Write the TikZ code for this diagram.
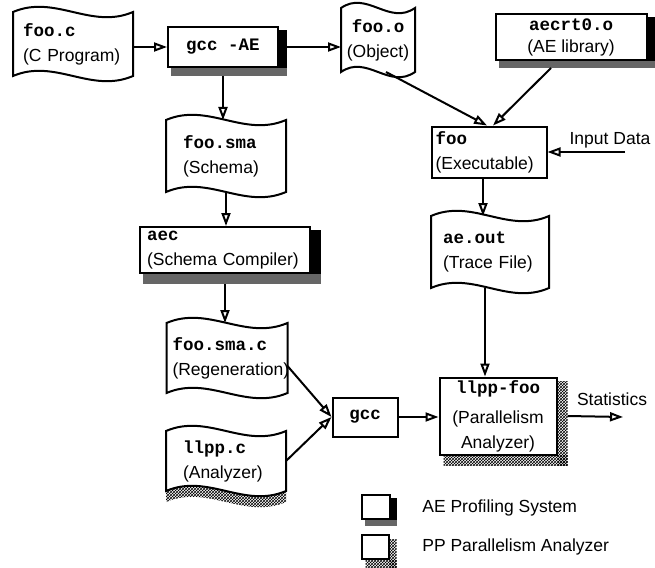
\documentclass[tikz,border=0pt]{standalone}
\usepackage{fontspec}
\setmainfont{Liberation Sans}
\setmonofont{Liberation Mono}
\usetikzlibrary{arrows.meta,calc,patterns}
\pgfdeclarelayer{background}
\pgfsetlayers{background,main}
\newcommand{\srcname}[1]{\textbf{\texttt{#1}}}
\def\wav{18pt}
% wavy file outline round a node: options, node, vertical shift
\newcommand{\docshape}[3][draw,fill=white]{%
  \path[#1] ([yshift=#3]#2.north west)
    .. controls ([yshift=#3+\wav]$(#2.north west)!.35!(#2.north east)$)
            and ([yshift=#3-\wav]$(#2.north west)!.65!(#2.north east)$) .. ([yshift=#3]#2.north east)
    -- ([yshift=#3]#2.south east)
    .. controls ([yshift=#3-\wav]$(#2.south west)!.65!(#2.south east)$)
            and ([yshift=#3+\wav]$(#2.south west)!.35!(#2.south east)$) .. ([yshift=#3]#2.south west)
    -- cycle;}
\newcommand{\aeshadow}[2][8pt]{%
  \fill[black] ([yshift=-4pt]#2.north east) rectangle ([xshift=#1,yshift=-#1]#2.south east);
  \fill[black!60] ([xshift=4pt]#2.south west) rectangle ([xshift=#1,yshift=-#1]#2.south east);}
\newcommand{\ppshadow}[2][10pt]{%
  \fill[pattern=crosshatch] ([yshift=-5pt]#2.north east) rectangle ([xshift=#1,yshift=-#1]#2.south east);
  \fill[pattern=crosshatch] ([xshift=5pt]#2.south west) rectangle ([xshift=#1,yshift=-#1]#2.south east);}

\begin{document}
\begin{tikzpicture}[x=1pt,y=-1pt,every path/.style={line width=2pt},font=\fontsize{17.5}{25}\selectfont,>={Triangle[open,length=13pt,width=9pt]}]
\tikzstyle{file}=[inner ysep=0pt,align=left]
\tikzstyle{prog}=[draw,fill=white,inner sep=1pt,line width=2pt]
\tikzstyle{arr}=[->,line width=2pt]
\useasboundingbox (0,0) rectangle (655,567);

\node[file,text width=100pt,inner xsep=9pt,minimum height=62pt](fooc) at (73,44) {\srcname{foo.c}\\(C Program)};
\node[prog,minimum width=110pt,minimum height=40pt](gccae) at (223,47) {\srcname{gcc -AE}};
\node[file,align=center,text width=64pt,inner xsep=4pt,minimum height=62pt](fooo) at (378,40) {\srcname{foo.o}\\(Object)};
\node[prog,align=center,minimum width=151pt,minimum height=46pt](aecrt) at (571,37) {\srcname{aecrt0.o}\\[-3pt](AE library)};
\node[file,text width=86pt,inner xsep=16pt,minimum height=70pt](foosma) at (226,156) {\srcname{foo.sma}\\(Schema)};
\node[prog,align=left,text width=156pt,inner xsep=7pt,minimum height=46pt](aec) at (225,250) {\srcname{aec}\\(Schema Compiler)};
\node[file,text width=109pt,inner xsep=5pt,minimum height=68pt](foosmac) at (227,358) {\srcname{foo.sma.c}\\(Regeneration)};
\node[file,text width=86pt,inner xsep=16pt,minimum height=58pt](llppc) at (226,461) {\srcname{llpp.c}\\(Analyzer)};
\node[prog,minimum width=65pt,minimum height=39pt](gcc) at (365,417) {\srcname{gcc}};
\node[prog,align=left,text width=107pt,inner xsep=4pt,minimum height=51pt](foo) at (489,152) {\srcname{foo}\\(Executable)};
\node[file,text width=94pt,inner xsep=11pt,minimum height=70pt](aeout) at (490,252) {\srcname{ae.out}\\(Trace File)};
\node[prog,align=center,minimum width=117pt,minimum height=77pt](llppfoo) at (498,416) {\srcname{llpp-foo}\\[5pt](Parallelism\\Analyzer)};

\node(input) at (610,140) {Input Data};
\coordinate (indata) at (625,152);
\node(stats) at (612,399) {Statistics};
\coordinate (statsend) at (623,417);

\node[prog,minimum width=28pt,minimum height=24pt](aekey) at (376,507) {};
\node[anchor=west](aetext) at (418,508) {AE Profiling System};
\node[prog,minimum width=27pt,minimum height=24pt](ppkey) at (375,547) {};
\node[anchor=west](pptext) at (418,547) {PP Parallelism Analyzer};

\aeshadow{gccae}
\aeshadow[7pt]{aecrt}
\aeshadow[10pt]{aec}
\aeshadow[6pt]{aekey}
\ppshadow{llppfoo}
\ppshadow[7pt]{ppkey}

\begin{pgfonlayer}{background}
\docshape{fooc}{0pt}
\docshape{fooo}{0pt}
\docshape{foosma}{0pt}
\docshape{foosmac}{0pt}
\docshape[pattern=crosshatch]{llppc}{-11pt}
\docshape{llppc}{0pt}
\docshape{aeout}{0pt}
\end{pgfonlayer}

\draw[arr] (fooc.east |- gccae) -- (gccae);
\draw[arr] ([xshift=8pt]gccae.east) -- (gccae.east -| fooo.west);
\draw[arr] ([yshift=-8pt]gccae.south) -- (gccae.south |- foosma.north);
\draw[arr] (foosma.south) -- (foosma.south |- aec.north);
\draw[arr] ([yshift=-10pt]aec.south) -- (aec.south |- foosmac.north);
\draw[arr] ([yshift=-8pt]foosmac.east) -- (gcc.west);
\draw[arr] (llppc.east) -- (gcc.west);
\draw[arr] (gcc.east) -- (gcc.east -| llppfoo.west);
\draw[arr] ([xshift=8pt]fooo.south) -- ([xshift=-2pt]foo.north);
\draw[arr] ([xshift=-20pt,yshift=-7pt]aecrt.south) -- ([xshift=4pt]foo.north);
\draw[arr] (indata) -- (foo.east |- indata);
\draw[arr] ([xshift=-6pt]foo.south) -- ([xshift=-6pt]foo.south |- aeout.north);
\draw[arr] ([xshift=-5pt]aeout.south) -- ([xshift=-5pt]aeout.south |- llppfoo.north);
\draw[arr] ([xshift=10pt]llppfoo.east) -- (statsend);
\end{tikzpicture}
\end{document}
